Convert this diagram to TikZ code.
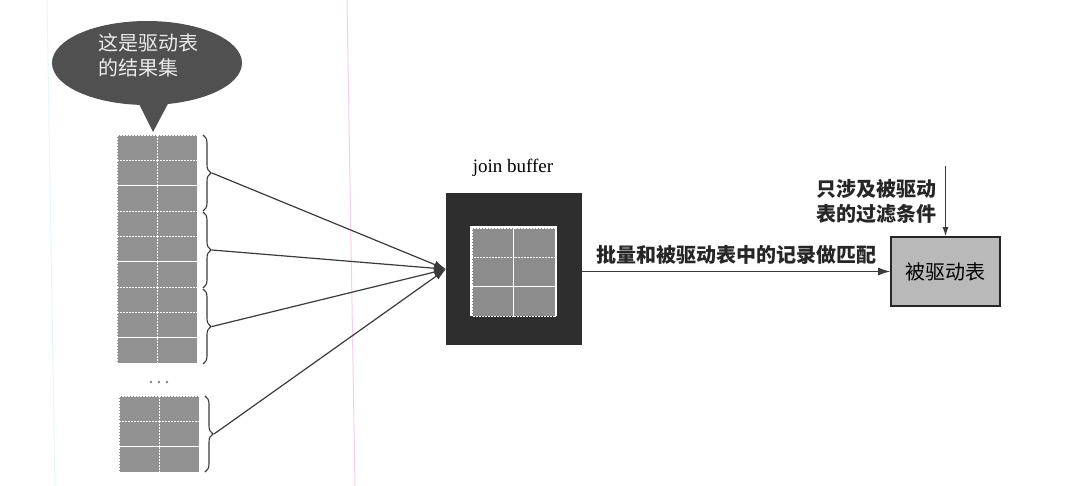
\documentclass[tikz,border=0pt]{standalone}
\usepackage{fontspec}
\setmainfont{Liberation Serif}
\newfontfamily\cjk{Noto Sans CJK SC}
\usetikzlibrary{arrows.meta,decorations.pathreplacing,shapes.geometric,calc}
\definecolor{bubblecol}{HTML}{505050}
\definecolor{cellcol}{HTML}{919191}
\definecolor{jbcol}{HTML}{2E2E2E}
\definecolor{jbcell}{HTML}{8C8C8C}
\definecolor{tgtcol}{HTML}{B9B9B9}
\definecolor{linecol}{HTML}{3A3A3A}
\tikzset{
  cellbox/.style={fill=cellcol,draw=white,dashed,line width=0.9pt,dash pattern=on 2pt off 1pt},
  jbcellbox/.style={fill=jbcell,draw=white,dashed,line width=0.9pt,dash pattern=on 2pt off 1pt},
  bracedeco/.style={decorate,decoration={brace,amplitude=8pt},draw=linecol,line width=1.1pt},
  conn/.style={draw=linecol,line width=1.2pt},
  arr/.style={conn,-{Latex[length=12pt,width=8pt]}},
  smallarr/.style={conn,-{Latex[length=9pt,width=6pt]}},
  cjklabel/.style={font=\cjk\bfseries\fontsize{20}{25}\selectfont,text=black!85,inner sep=0pt},
}
\begin{document}
\begin{tikzpicture}[x=1pt,y=-1pt]
\useasboundingbox (0,0) rectangle (1078,486);
% faint scan lines
\draw[color=cyan!10,line width=1pt] (47,0) -- (55,486);
\draw[color=magenta!20,line width=1pt] (347,0) -- (355,486);

% bubble
\node[ellipse,fill=bubblecol,minimum width=190pt,minimum height=84pt,inner sep=0pt] (bubble) at (147,63) {};
\fill[bubblecol] (136,98) -- (153,132) -- (171,98) -- cycle;
\node[align=left,text=white!92!black,font=\cjk\fontsize{20}{25}\selectfont,inner sep=0pt] (bubbletext) at (148,55) {这是驱动表\\的结果集};

% top column of cells
\foreach \i in {0,...,8} {
  \foreach \j in {0,1} {
    \path[cellbox] (117+\j*40, 135+\i*25.33) rectangle ++(40,25.33);
  }
}
% bottom column
\foreach \i in {0,1,2} {
  \foreach \j in {0,1} {
    \path[cellbox] (119+\j*40, 396+\i*25.33) rectangle ++(40,25.33);
  }
}
% dots
\foreach \x in {151,159,167} \fill[gray] (\x,382) circle (1.4pt);

% braces
\draw[bracedeco] (203,135) -- (203,211);
\draw[bracedeco] (203,212) -- (203,288);
\draw[bracedeco] (203,289) -- (203,364);
\draw[bracedeco] (205,396) -- (205,472);
\coordinate (b1) at (212,173);
\coordinate (b2) at (212,250);
\coordinate (b3) at (212,326.5);
\coordinate (b4) at (214,434);

% join buffer
\node[fill=jbcol,minimum width=136pt,minimum height=152pt,inner sep=0pt,anchor=north west] (jb) at (446,193) {};
\fill[white] (470,226) rectangle (557,316);
\foreach \i in {0,1,2} {
  \foreach \j in {0,1} {
    \path[jbcellbox] (472+\j*41.5, 228+\i*29.33) rectangle ++(41.5,29.33);
  }
}
\node[font=\fontsize{19}{22}\selectfont,inner sep=0pt] (jblabel) at (513,168) {join buffer};

% connectors
\draw[arr] (b1) -- (jb.west);
\draw[arr] (b2) -- (jb.west);
\draw[arr] (b3) -- (jb.west);
\draw[arr] (b4) -- (jb.west);

% target table
\node[fill=tgtcol,draw=black!85,line width=1.6pt,minimum width=109pt,minimum height=69pt,inner sep=0pt,font=\cjk\fontsize{20}{24}\selectfont] (tgt) at (945.5,271.5) {被驱动表};

\draw[arr] (jb.east |- tgt.west) -- node[cjklabel,above=6pt] (matchlabel) {批量和被驱动表中的记录做匹配} (tgt.west);

\coordinate (vtop) at (945.5,166);
\draw[smallarr] (vtop) -- (tgt.north);
\node[cjklabel,align=right,anchor=east] (filterlabel) at (937,202) {只涉及被驱动\\表的过滤条件};
\end{tikzpicture}
\end{document}
